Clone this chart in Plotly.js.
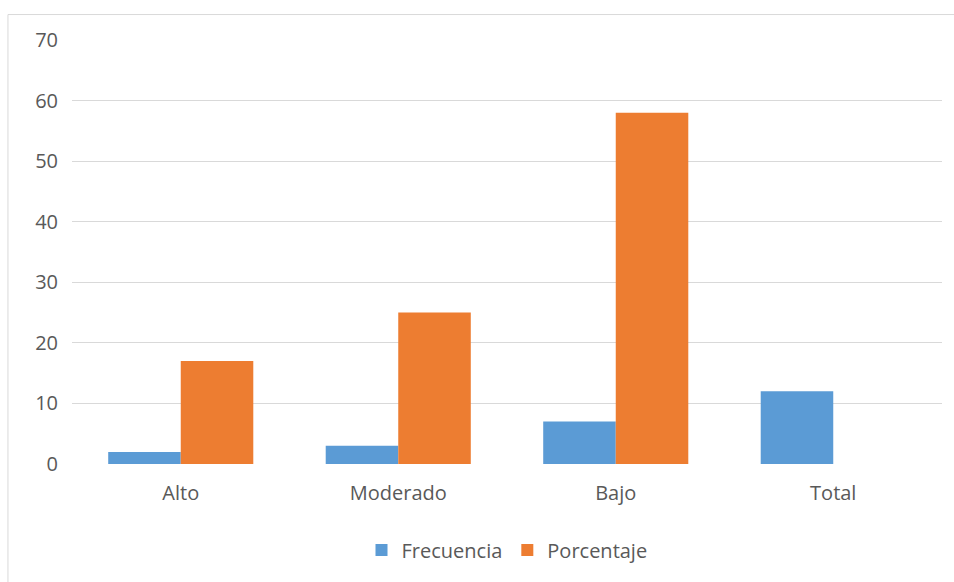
<!DOCTYPE html>
<html><head><meta charset="utf-8">
<script src="https://cdn.plot.ly/plotly-3.0.1.min.js"></script>
<style>html,body{margin:0;padding:0;background:#fff}#c{width:954px;height:582px}</style>
</head><body><div id="c"></div>
<script>
const categories = ["Alto", "Moderado", "Bajo", "Total"];
const frecuencia = [2, 3, 7, 12];
const porcentaje = [17, 25, 58, null];
const yTicks = [0, 10, 20, 30, 40, 50, 60, 70];

const font = {family: "Open Sans, Liberation Sans, sans-serif", size: 20, color: "#595959"};
const data = [
  {type: "bar", name: "Frecuencia", x: categories, y: frecuencia, marker: {color: "#5B9BD5"}},
  {type: "bar", name: "Porcentaje", x: categories, y: porcentaje, marker: {color: "#ED7D31"}}
];
const layout = {
  width: 954, height: 582,
  margin: {l: 72, r: 12, t: 39.5, b: 118},
  paper_bgcolor: "#fff", plot_bgcolor: "#fff",
  font: font,
  barmode: "group", bargap: 0.333, bargroupgap: 0,
  xaxis: {showgrid: false, showline: false, zeroline: false, ticks: "", ticklabelstandoff: 15, tickfont: font},
  yaxis: {range: [0, 70], tickvals: yTicks, showgrid: true, gridcolor: "#d9d9d9", gridwidth: 1,
          zeroline: false, showline: false, ticks: "", ticklabelstandoff: 13, tickfont: font},
  legend: {orientation: "h", x: 0.5, xanchor: "center", y: -0.203, yanchor: "middle", font: font, itemwidth: 30, traceorder: "normal"},
  shapes: [{type: "rect", xref: "paper", yref: "paper", x0: -0.0736, x1: 1.1, y0: -0.5, y1: 1.060,
            line: {color: "#d9d9d9", width: 1}, fillcolor: "rgba(0,0,0,0)", layer: "below"}],
  showlegend: true
};
Plotly.newPlot("c", data, layout, {displayModeBar: false, staticPlot: true});
</script></body></html>
